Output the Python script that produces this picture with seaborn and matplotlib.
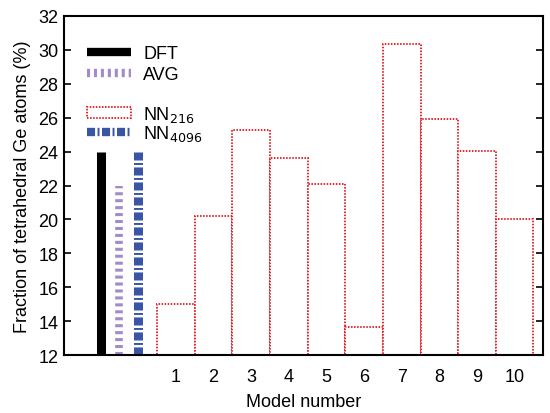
import matplotlib
matplotlib.use("Agg")
import matplotlib.pyplot as plt
import seaborn as sns
import numpy as np
from matplotlib.lines import Line2D
from matplotlib.patches import Patch

models = [1, 2, 3, 4, 5, 6, 7, 8, 9, 10]
nn216 = [15.0, 20.2, 25.3, 23.65, 22.1, 13.65, 30.35, 25.9, 24.05, 20.0]
ref_labels = ["DFT", "AVG", "NN4096"]
ref_pos = [-1.0, -0.5, 0.0]
ref_vals = [24.0, 22.0, 24.0]

sns.set_theme(style="ticks")
plt.rcParams['font.family'] = ['Liberation Sans', 'DejaVu Sans']
plt.rcParams['lines.scale_dashes'] = False
plt.rcParams['text.color'] = 'black'
plt.rcParams['axes.labelcolor'] = 'black'

fig = plt.figure(figsize=(5.5, 4.14), dpi=100)
ax = fig.add_axes([0.1164, 0.140, 0.8706, 0.819])

red = "#e8262e"
purple = "#a58bc6"
blue = "#3a55a5"
dot = (0, (1.1, 1.1))
avg_dash = (0, (2.2, 2.8))
nn4096_dash = (0, (5.8, 1.8, 1.4, 1.8))

sns.barplot(x=models, y=nn216, native_scale=True, width=1.0, color="white",
            edgecolor=red, linestyle=dot, linewidth=1.4, ax=ax, zorder=2)

styles = [
    dict(color="black", linestyles="solid", linewidths=6.5),
    dict(color=purple, linestyles=[avg_dash], linewidths=5.5),
    dict(color=blue, linestyles=[nn4096_dash], linewidths=6.5),
]
for p, v, st in zip(ref_pos, ref_vals, styles):
    lc = ax.vlines([p], 12, [v], **st)
    lc.set_capstyle("butt")

ax.set_xlim(-1.97, 10.75)
ax.set_ylim(12, 32)
ax.set_yticks(np.arange(12, 33, 2))
ax.set_xticks(models)
ax.set_xticklabels([str(m) for m in models])
ax.tick_params(axis="y", direction="in", length=5, width=1.2, right=True,
               labelsize=13, colors="black", labelcolor="black", pad=4)
ax.tick_params(axis="x", length=0, labelsize=13, labelcolor="black", pad=9)
for s in ax.spines.values():
    s.set_visible(True)
    s.set_linewidth(1.5)
    s.set_color("black")
ax.set_xlabel("Model number", fontsize=13, labelpad=6, color="black")
ax.set_ylabel("Fraction of tetrahedral Ge atoms (%)", fontsize=13, labelpad=5, color="black")

common = dict(loc="upper left", frameon=False, fontsize=13, handlelength=2.45,
              handleheight=0.6, borderpad=0, borderaxespad=0, handletextpad=0.67)

h1 = [
    Line2D([], [], color="black", lw=6, solid_capstyle="butt"),
    Line2D([], [], color=purple, lw=6, linestyle=avg_dash, dash_capstyle="butt"),
]
leg1 = ax.legend(h1, ["DFT", "AVG"], labelspacing=0.2,
                 bbox_to_anchor=(0.048, 0.913), **common)
ax.add_artist(leg1)

h2 = [
    Patch(facecolor="white", edgecolor=red, linestyle=dot, linewidth=1.4),
    Line2D([], [], color=blue, lw=6, linestyle=nn4096_dash, dash_capstyle="butt"),
]
leg2 = ax.legend(h2, [r"NN$_{216}$", r"NN$_{4096}$"], labelspacing=-0.05,
                 bbox_to_anchor=(0.048, 0.740), **common)
for lg in (leg1, leg2):
    for t in lg.get_texts():
        t.set_color("black")

fig.savefig("out.png", dpi=100)
